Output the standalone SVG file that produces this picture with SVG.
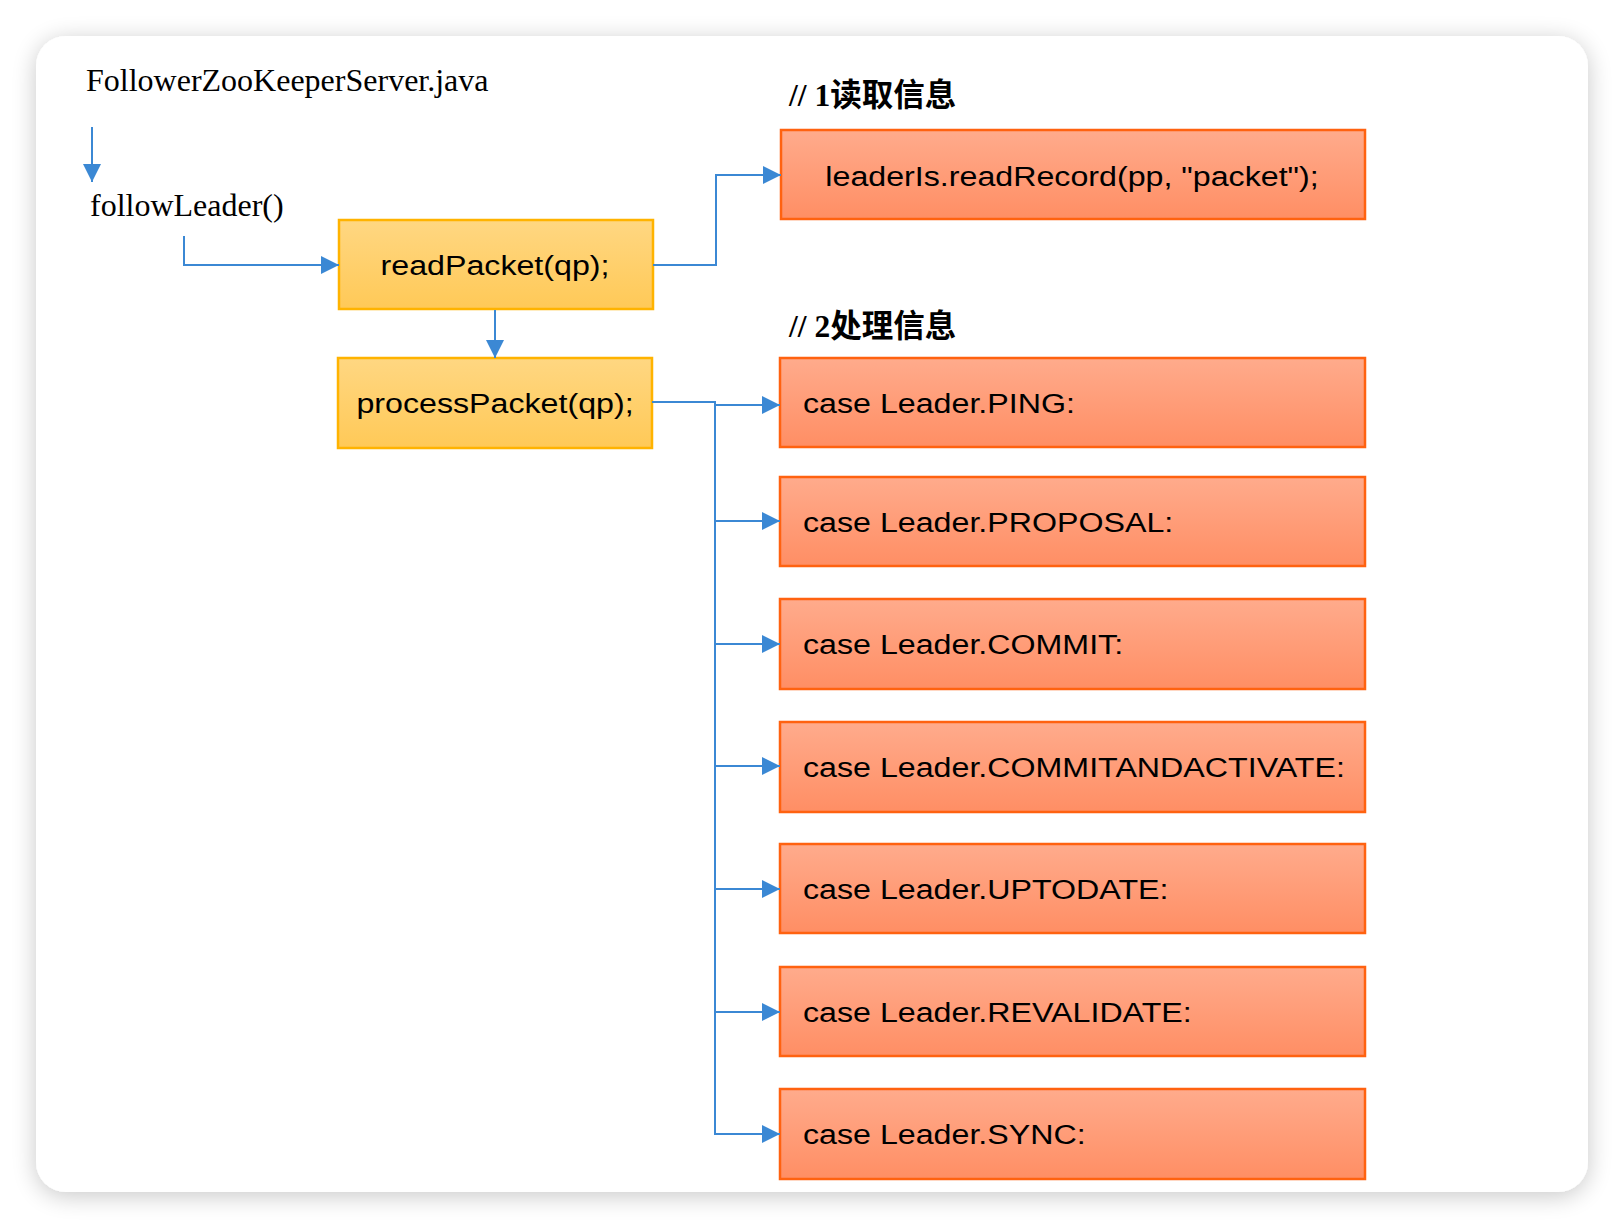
<svg xmlns="http://www.w3.org/2000/svg" width="1624" height="1228" viewBox="0 0 1624 1228">
<defs>
<linearGradient id="gy" x1="0" y1="0" x2="0" y2="1"><stop offset="0" stop-color="#FFD782"/><stop offset="1" stop-color="#FFC957"/></linearGradient>
<linearGradient id="go" x1="0" y1="0" x2="0" y2="1"><stop offset="0" stop-color="#FFAB8C"/><stop offset="1" stop-color="#FF8E64"/></linearGradient>
<filter id="sh" x="-10%" y="-10%" width="120%" height="120%"><feGaussianBlur in="SourceAlpha" stdDeviation="12"/><feOffset dy="4"/><feComponentTransfer><feFuncA type="linear" slope="0.22"/></feComponentTransfer><feMerge><feMergeNode/><feMergeNode in="SourceGraphic"/></feMerge></filter>
<marker id="ar" viewBox="0 0 18 18" refX="18" refY="9" markerWidth="18" markerHeight="18" markerUnits="userSpaceOnUse" orient="auto"><path d="M0,0 L18,9 L0,18 z" fill="#3B88D4"/></marker>
</defs>
<style>
.yb{fill:url(#gy);stroke:#FFB300;stroke-width:2.5}
.ob{fill:url(#go);stroke:#FF6210;stroke-width:2.5}
.t{font-family:"Liberation Sans",Arial,sans-serif;font-size:28px;fill:#000}
.s{font-family:"Liberation Serif","Times New Roman",serif;font-size:32px;fill:#000}
.c{font-family:"Liberation Serif","Noto Sans CJK SC",serif;font-size:31.5px;font-weight:bold;fill:#000}
.ln{fill:none;stroke:#3B88D4;stroke-width:2}
</style>
<rect width="1624" height="1228" fill="#ffffff"/>
<rect x="36" y="36" width="1552" height="1156" rx="30" ry="30" fill="#ffffff" filter="url(#sh)"/>

<g id="labels">
<text class="s" x="86" y="91">FollowerZooKeeperServer.java</text>
<text class="c" x="789" y="106">// 1读取信息</text>
<text class="c" x="789" y="337">// 2处理信息</text>
</g>

<g id="followLeader"><text class="s" x="90" y="216">followLeader()</text></g>

<g id="readPacket"><rect class="yb" x="339" y="220" width="314" height="89"/><text class="t" text-anchor="middle" transform="translate(495,275) scale(1.15,1)">readPacket(qp);</text></g>
<g id="processPacket"><rect class="yb" x="338" y="358" width="314" height="90"/><text class="t" text-anchor="middle" transform="translate(495,413) scale(1.15,1)">processPacket(qp);</text></g>

<g id="readRecord"><rect class="ob" x="781" y="130" width="584" height="89"/><text class="t" text-anchor="middle" transform="translate(1072,186) scale(1.15,1)">leaderIs.readRecord(pp, "packet");</text></g>

<g id="casePING"><rect class="ob" x="780" y="358" width="585" height="89"/><text class="t" transform="translate(803,413) scale(1.15,1)">case Leader.PING:</text></g>
<g id="casePROPOSAL"><rect class="ob" x="780" y="477" width="585" height="89"/><text class="t" transform="translate(803,532) scale(1.15,1)">case Leader.PROPOSAL:</text></g>
<g id="caseCOMMIT"><rect class="ob" x="780" y="599" width="585" height="90"/><text class="t" transform="translate(803,654) scale(1.15,1)">case Leader.COMMIT:</text></g>
<g id="caseCOMMITANDACTIVATE"><rect class="ob" x="780" y="722" width="585" height="90"/><text class="t" transform="translate(803,777) scale(1.15,1)">case Leader.COMMITANDACTIVATE:</text></g>
<g id="caseUPTODATE"><rect class="ob" x="780" y="844" width="585" height="89"/><text class="t" transform="translate(803,899) scale(1.15,1)">case Leader.UPTODATE:</text></g>
<g id="caseREVALIDATE"><rect class="ob" x="780" y="967" width="585" height="89"/><text class="t" transform="translate(803,1022) scale(1.15,1)">case Leader.REVALIDATE:</text></g>
<g id="caseSYNC"><rect class="ob" x="780" y="1089" width="585" height="90"/><text class="t" transform="translate(803,1144) scale(1.15,1)">case Leader.SYNC:</text></g>

<g id="connectors">
<path class="ln" d="M92,127 V182" marker-end="url(#ar)"/>
<path class="ln" d="M184,236 V265 H339" marker-end="url(#ar)"/>
<path class="ln" d="M653,265 H716 V175 H781" marker-end="url(#ar)"/>
<path class="ln" d="M495,310 V358" marker-end="url(#ar)"/>
<path class="ln" d="M652,402 H715 V1134"/>
<path class="ln" d="M715,405 H780" marker-end="url(#ar)"/>
<path class="ln" d="M715,521 H780" marker-end="url(#ar)"/>
<path class="ln" d="M715,644 H780" marker-end="url(#ar)"/>
<path class="ln" d="M715,766 H780" marker-end="url(#ar)"/>
<path class="ln" d="M715,889 H780" marker-end="url(#ar)"/>
<path class="ln" d="M715,1012 H780" marker-end="url(#ar)"/>
<path class="ln" d="M714,1134 H780" marker-end="url(#ar)"/>
</g>
</svg>
